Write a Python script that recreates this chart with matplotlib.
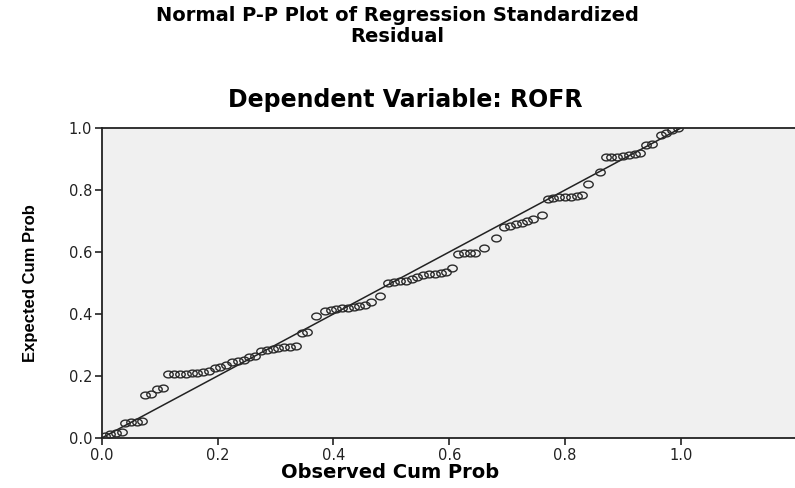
import matplotlib
matplotlib.use("Agg")
import matplotlib.pyplot as plt
import numpy as np
from matplotlib.path import Path

observed = [0.005, 0.015, 0.025, 0.035, 0.04, 0.05, 0.06, 0.07, 0.075, 0.085,
            0.095, 0.105, 0.115, 0.125, 0.135, 0.145, 0.155, 0.165, 0.175, 0.185,
            0.195, 0.205, 0.215, 0.225, 0.235, 0.245, 0.255, 0.265, 0.275, 0.285,
            0.295, 0.305, 0.315, 0.325, 0.335, 0.345, 0.355, 0.370, 0.385, 0.395,
            0.405, 0.415, 0.425, 0.435, 0.445, 0.455, 0.465, 0.480, 0.495, 0.505,
            0.515, 0.525, 0.535, 0.545, 0.555, 0.565, 0.575, 0.585, 0.595, 0.605,
            0.615, 0.625, 0.635, 0.645, 0.660, 0.680, 0.695, 0.705, 0.715, 0.725,
            0.735, 0.745, 0.760, 0.770, 0.780, 0.790, 0.800, 0.810, 0.820, 0.830,
            0.840, 0.860, 0.870, 0.880, 0.890, 0.900, 0.910, 0.920, 0.930, 0.940,
            0.950, 0.965, 0.975, 0.985, 0.995]
expected = [0.008, 0.012, 0.016, 0.020, 0.048, 0.050, 0.052, 0.055, 0.140, 0.142,
            0.158, 0.160, 0.205, 0.206, 0.207, 0.208, 0.209, 0.210, 0.212, 0.215,
            0.225, 0.228, 0.235, 0.245, 0.248, 0.252, 0.260, 0.265, 0.280, 0.285,
            0.288, 0.290, 0.292, 0.295, 0.298, 0.338, 0.342, 0.395, 0.410, 0.412,
            0.415, 0.418, 0.420, 0.422, 0.425, 0.430, 0.440, 0.458, 0.500, 0.502,
            0.505, 0.508, 0.512, 0.520, 0.525, 0.528, 0.530, 0.532, 0.535, 0.548,
            0.595, 0.596, 0.597, 0.598, 0.612, 0.645, 0.680, 0.685, 0.690, 0.695,
            0.700, 0.705, 0.720, 0.772, 0.774, 0.776, 0.777, 0.778, 0.780, 0.785,
            0.820, 0.858, 0.905, 0.907, 0.908, 0.910, 0.912, 0.915, 0.920, 0.945,
            0.948, 0.978, 0.985, 0.995, 1.000]

ticks = [0.0, 0.2, 0.4, 0.6, 0.8, 1.0]
tick_labels = ["0.0", "0.2", "0.4", "0.6", "0.8", "1.0"]

plt.rcParams['font.family'] = ['DejaVu Sans']

fig = plt.figure(figsize=(7.95, 4.88), dpi=100)
ax = fig.add_axes([0.128, 0.1025, 0.872, 0.6352])
ax.set_facecolor("#f0f0f0")

# elliptical open marker (reference markers are wider than tall)
t = np.linspace(0, 2 * np.pi, 40)
ell = Path(np.column_stack([np.cos(t), 0.72 * np.sin(t)]), closed=True)

ax.plot([0, 1], [0, 1], color="#222222", lw=1.1, zorder=2)
ax.plot(observed, expected, linestyle="none", marker=ell, markersize=6.8,
        markerfacecolor="none", markeredgecolor="#2a2a2a", markeredgewidth=1.0,
        zorder=3)

ax.set_xlim(0, 1.197)
ax.set_ylim(0, 1.0)
ax.set_xticks(ticks)
ax.set_xticklabels(tick_labels)
ax.set_yticks(ticks)
ax.set_yticklabels(tick_labels)
ax.tick_params(direction="out", length=5, width=1.2, labelsize=10.5, colors="#222222",
               pad=2)
for s in ["left", "bottom", "top"]:
    ax.spines[s].set_color("#222222")
    ax.spines[s].set_linewidth(1.3)
ax.spines["right"].set_visible(False)

ax.set_xlabel("Observed Cum Prob", fontsize=14, fontweight="bold", va="center")
ax.xaxis.set_label_coords(0.416, -0.11)
ax.set_ylabel("Expected Cum Prob", fontsize=12, fontweight="bold",
              family=['Liberation Sans Narrow', 'Liberation Sans', 'DejaVu Sans'])
ax.yaxis.set_label_coords(-0.092, 0.5)

fig.text(0.5, 0.969, "Normal P-P Plot of Regression Standardized",
         ha="center", va="center", fontsize=14, fontweight="bold")
fig.text(0.5, 0.926, "Residual",
         ha="center", va="center", fontsize=14, fontweight="bold")
fig.text(0.51, 0.795, "Dependent Variable: ROFR", ha="center", va="center",
         fontsize=17, fontweight="bold")

fig.savefig("out.png", dpi=100)
